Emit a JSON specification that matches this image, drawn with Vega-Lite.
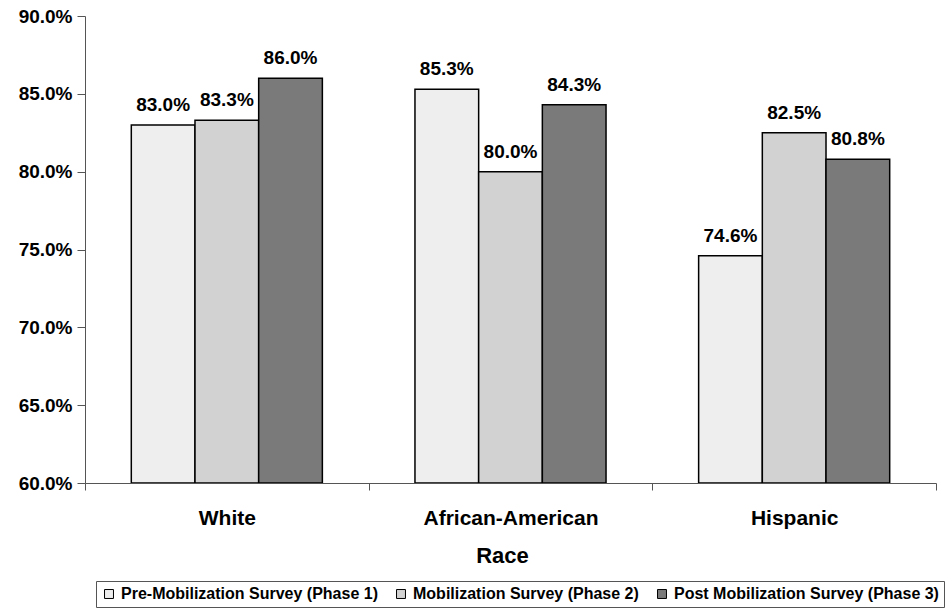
{
  "$schema": "https://vega.github.io/schema/vega-lite/v6.json",
  "width": 851,
  "height": 467,
  "autosize": {"type": "none"},
  "padding": {"left": 85, "top": 16, "right": 13, "bottom": 129},
  "background": "white",
  "config": {"font": "Liberation Sans", "view": {"stroke": null}},
  "data": {
    "values": [
      {"race": "White", "survey": "Pre-Mobilization Survey (Phase 1)", "value": 0.830},
      {"race": "White", "survey": "Mobilization Survey (Phase 2)", "value": 0.833},
      {"race": "White", "survey": "Post Mobilization Survey (Phase 3)", "value": 0.860},
      {"race": "African-American", "survey": "Pre-Mobilization Survey (Phase 1)", "value": 0.853},
      {"race": "African-American", "survey": "Mobilization Survey (Phase 2)", "value": 0.800},
      {"race": "African-American", "survey": "Post Mobilization Survey (Phase 3)", "value": 0.843},
      {"race": "Hispanic", "survey": "Pre-Mobilization Survey (Phase 1)", "value": 0.746},
      {"race": "Hispanic", "survey": "Mobilization Survey (Phase 2)", "value": 0.825},
      {"race": "Hispanic", "survey": "Post Mobilization Survey (Phase 3)", "value": 0.808}
    ]
  },
  "encoding": {
    "x": {
      "field": "race",
      "type": "nominal",
      "sort": ["White", "African-American", "Hispanic"],
      "scale": {"paddingInner": 0, "paddingOuter": 0},
      "axis": {
        "title": "Race",
        "labelAngle": 0,
        "labelFontSize": 21,
        "labelFontWeight": "bold",
        "labelColor": "black",
        "labelPadding": 17,
        "tickBand": "extent",
        "tickSize": 7,
        "tickColor": "#555",
        "domainColor": "#555",
        "titleFontSize": 22,
        "titleFontWeight": "bold",
        "titleColor": "black",
        "titlePadding": 17,
        "titleX": 417,
        "grid": false
      }
    },
    "xOffset": {
      "field": "survey",
      "sort": ["Pre-Mobilization Survey (Phase 1)", "Mobilization Survey (Phase 2)", "Post Mobilization Survey (Phase 3)"],
      "scale": {"paddingInner": 0, "paddingOuter": 0.727}
    },
    "y": {
      "field": "value",
      "type": "quantitative",
      "scale": {"domain": [0.6, 0.9], "zero": false, "nice": false},
      "axis": {
        "title": null,
        "format": ".1%",
        "values": [0.6, 0.65, 0.7, 0.75, 0.8, 0.85, 0.9],
        "labelFontSize": 19,
        "labelFontWeight": "bold",
        "labelColor": "black",
        "labelPadding": 5,
        "tickSize": 8,
        "tickColor": "#555",
        "domainColor": "#555",
        "grid": false
      }
    }
  },
  "layer": [
    {
      "mark": {"type": "bar", "stroke": "black", "strokeWidth": 1.5, "clip": true},
      "encoding": {
        "y2": {"datum": 0.6},
        "fill": {
          "field": "survey",
          "type": "nominal",
          "sort": ["Pre-Mobilization Survey (Phase 1)", "Mobilization Survey (Phase 2)", "Post Mobilization Survey (Phase 3)"],
          "scale": {
            "domain": ["Pre-Mobilization Survey (Phase 1)", "Mobilization Survey (Phase 2)", "Post Mobilization Survey (Phase 3)"],
            "range": ["#eeeeee", "#d2d2d2", "#7a7a7a"]
          },
          "legend": {
            "orient": "none",
            "legendX": 11,
            "legendY": 565,
            "direction": "horizontal",
            "columns": 3,
            "title": null,
            "strokeColor": "#555",
            "padding": 5,
            "symbolType": "square",
            "symbolSize": 80,
            "symbolStrokeColor": "black",
            "symbolStrokeWidth": 1,
            "labelFontSize": 16,
            "labelFontWeight": "bold",
            "labelColor": "black",
            "labelOffset": 4,
            "columnPadding": 15,
            "labelLimit": 400
          }
        }
      }
    },
    {
      "mark": {"type": "text", "dy": -14, "baseline": "alphabetic", "fontSize": 19, "fontWeight": "bold", "color": "black"},
      "encoding": {
        "text": {"field": "value", "type": "quantitative", "format": ".1%"}
      }
    }
  ]
}
